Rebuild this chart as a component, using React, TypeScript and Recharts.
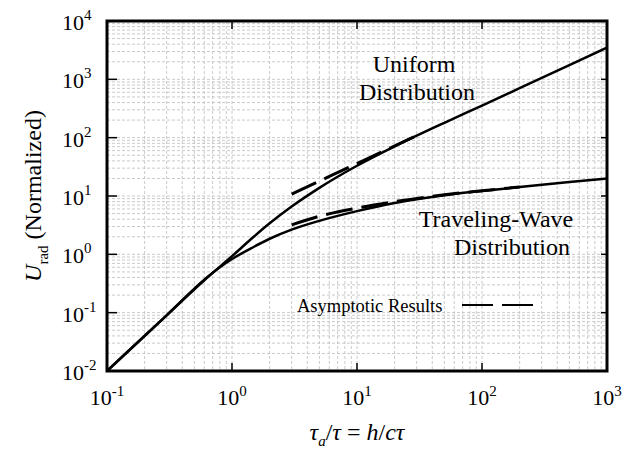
import React from "react";
import {
    LineChart,
    Line,
    XAxis,
    YAxis,
    CartesianGrid,
    Customized,
} from "recharts";

// plot box inside the 620x440 chart
const W = 620;
const H = 440;
const LEFT = 99;
const RIGHT = 599;
const TOP = 13;
const BOTTOM = 363;
const FONT = "'Liberation Serif', 'Times New Roman', serif";

const majorX = [0.1, 1, 10, 100, 1000];
const majorY = [0.01, 0.1, 1, 10, 100, 1000, 10000];
const minorSteps = [2, 3, 4, 5, 6, 7, 8, 9];

const xTicks = [
    ...majorX,
    ...majorX.slice(0, -1).flatMap((d) => minorSteps.map((m) => d * m)),
].sort((a, b) => a - b);
const yTicks = [
    ...majorY,
    ...majorY.slice(0, -1).flatMap((d) => minorSteps.map((m) => d * m)),
].sort((a, b) => a - b);

// solid curves
const uniformX = [0.1, 0.3, 0.6, 1, 1.5, 2, 3, 5, 10, 20, 50, 100, 200, 500, 1000];
const uniformY = [0.01, 0.09, 0.36, 0.93, 2.02, 3.4, 6.6, 13.8, 33, 71, 180, 355, 705, 1760, 3500];

const travelX = [0.1, 0.3, 0.63, 0.8, 1, 1.5, 2, 3, 5, 10, 20, 30, 50, 100, 200, 500, 1000];
const travelY = [0.01, 0.09, 0.4, 0.6, 0.83, 1.35, 1.85, 2.65, 3.75, 5.5, 7.6, 8.8, 10.3, 12.2, 14.2, 17.3, 20];

// asymptotic results (dashed)
const uniformAsymX = [3, 10, 30];
const uniformAsymY = [10.8, 36, 108];

const travelAsymX = [3, 5, 10, 20, 50, 100, 200];
const travelAsymY = [3.2, 4.5, 6.2, 8.0, 10.5, 12.3, 14.3];

const toPoints = (xs: number[], ys: number[]) => xs.map((x, i) => ({ x, y: ys[i] }));

const XTick = (props: any) => {
    const { x, payload } = props;
    const v = payload.value;
    if (!majorX.includes(v)) return <g />;
    const exp = Math.round(Math.log10(v));
    return (
        <g>
            <line x1={x} x2={x} y1={BOTTOM} y2={BOTTOM - 8} stroke="#000" strokeWidth={1.5} />
            <line x1={x} x2={x} y1={TOP} y2={TOP + 8} stroke="#000" strokeWidth={1.5} />
            <text x={x} y={BOTTOM + 34} textAnchor="middle" fontFamily={FONT} fontSize={22} fill="#000">
                10
                <tspan dy={-9} fontSize={15}>
                    {exp}
                </tspan>
            </text>
        </g>
    );
};

const YTick = (props: any) => {
    const { y, payload } = props;
    const v = payload.value;
    if (!majorY.includes(v)) return <g />;
    const exp = Math.round(Math.log10(v));
    return (
        <g>
            <line x1={LEFT} x2={LEFT + 10} y1={y} y2={y} stroke="#000" strokeWidth={1.5} />
            <line x1={RIGHT} x2={RIGHT - 6} y1={y} y2={y} stroke="#000" strokeWidth={1.5} />
            <text x={54} y={y + 9} textAnchor="start" fontFamily={FONT} fontSize={22} fill="#000">
                10
                <tspan dy={-10} fontSize={15}>
                    {exp}
                </tspan>
            </text>
        </g>
    );
};

const Label = ({ x, y, size = 24, children }: any) => (
    <text x={x} y={y} textAnchor="middle" fontFamily={FONT} fontSize={size} fill="#000">
        {children}
    </text>
);

const Overlay = () => (
    <g>
        <rect
            x={LEFT}
            y={TOP}
            width={RIGHT - LEFT}
            height={BOTTOM - TOP}
            fill="none"
            stroke="#000"
            strokeWidth={3}
        />
        <Label x={406} y={64}>Uniform</Label>
        <Label x={409} y={92}>Distribution</Label>
        <Label x={488} y={219}>Traveling-Wave</Label>
        <Label x={504} y={247}>Distribution</Label>
        <text x={289} y={304} fontFamily={FONT} fontSize={18.5} fill="#000">
            Asymptotic Results
        </text>
        <line x1={454} x2={485} y1={297} y2={297} stroke="#000" strokeWidth={2} />
        <line x1={494} x2={525} y1={297} y2={297} stroke="#000" strokeWidth={2} />
        {/* y axis title */}
        <text
            transform="translate(33, 188) rotate(-90)"
            textAnchor="middle"
            fontFamily={FONT}
            fontSize={24}
            fill="#000"
        >
            <tspan fontStyle="italic">U</tspan>
            <tspan dy={7} fontSize={15}>
                rad
            </tspan>
            <tspan dy={-7}>{" (Normalized)"}</tspan>
        </text>
        {/* x axis title */}
        <text x={349} y={432} textAnchor="middle" fontFamily={FONT} fontSize={24} fill="#000">
            <tspan fontStyle="italic">τ</tspan>
            <tspan dy={6} fontSize={15} fontStyle="italic">
                a
            </tspan>
            <tspan dy={-6}>/</tspan>
            <tspan fontStyle="italic">τ</tspan>
            {" = "}
            <tspan fontStyle="italic">h</tspan>/<tspan fontStyle="italic">cτ</tspan>
        </text>
    </g>
);

export default function App() {
    const series = [
        { name: "uniform", data: toPoints(uniformX, uniformY), dash: undefined, width: 2.5 },
        { name: "traveling", data: toPoints(travelX, travelY), dash: undefined, width: 2.5 },
        { name: "uniformAsym", data: toPoints(uniformAsymX, uniformAsymY), dash: "27 9", width: 3 },
        { name: "travelAsym", data: toPoints(travelAsymX, travelAsymY), dash: "27 9", width: 3 },
    ];

    return (
        <div style={{ width: W, height: H, background: "#fff" }}>
            <LineChart width={W} height={H} margin={{ top: TOP, right: W - RIGHT, bottom: 0, left: 0 }}>
                <CartesianGrid stroke="#bcbcbc" strokeDasharray="3 2" strokeWidth={0.8} />
                <XAxis
                    dataKey="x"
                    type="number"
                    scale="log"
                    domain={[0.1, 1000]}
                    allowDataOverflow
                    ticks={xTicks}
                    interval={0}
                    tick={<XTick />}
                    tickLine={false}
                    axisLine={false}
                    height={H - BOTTOM}
                />
                <YAxis
                    dataKey="y"
                    type="number"
                    scale="log"
                    domain={[0.01, 10000]}
                    allowDataOverflow
                    ticks={yTicks}
                    interval={0}
                    tick={<YTick />}
                    tickLine={false}
                    axisLine={false}
                    width={LEFT}
                />
                {series.map((s) => (
                    <Line
                        key={s.name}
                        data={s.data}
                        dataKey="y"
                        type="monotone"
                        stroke="#000"
                        strokeWidth={s.width}
                        strokeDasharray={s.dash}
                        dot={false}
                        isAnimationActive={false}
                    />
                ))}
                <Customized component={Overlay} />
            </LineChart>
        </div>
    );
}
